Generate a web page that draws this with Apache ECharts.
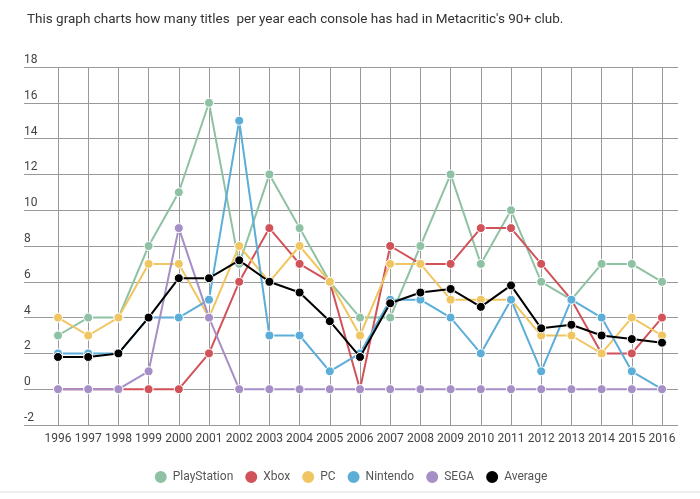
<!DOCTYPE html>
<html>
<head>
<meta charset="utf-8">
<script src="https://cdn.jsdelivr.net/npm/echarts@6/dist/echarts.min.js"></script>
<style>html,body{margin:0;padding:0;background:#fff;}#c{width:700px;height:499px;}</style>
</head>
<body>
<div id="c"></div>
<script>
var years = ['1996','1997','1998','1999','2000','2001','2002','2003','2004','2005','2006','2007','2008','2009','2010','2011','2012','2013','2014','2015','2016'];
var playstation = [3,4,4,8,11,16,7,12,9,6,4,4,8,12,7,10,6,5,7,7,6];
var xbox        = [0,0,0,0,0,2,6,9,7,6,0,8,7,7,9,9,7,5,2,2,4];
var pc          = [4,3,4,7,7,4,8,6,8,6,3,7,7,5,5,5,3,3,2,4,3];
var nintendo    = [2,2,2,4,4,5,15,3,3,1,2,5,5,4,2,5,1,5,4,1,0];
var sega        = [0,0,0,1,9,4,0,0,0,0,0,0,0,0,0,0,0,0,0,0,0];
var average     = [1.8,1.8,2,4,6.2,6.2,7.2,6,5.4,3.8,1.8,4.8,5.4,5.6,4.6,5.8,3.4,3.6,3,2.8,2.6];
var yTicks = {min: -2, max: 18, interval: 2};

var names  = ['PlayStation','Xbox','PC','Nintendo','SEGA','Average'];
var colors = ['#8fc2a4','#d2525a','#efc661','#5caed8','#a58fc6','#000000'];
var datas  = [playstation, xbox, pc, nintendo, sega, average];

var chart = echarts.init(document.getElementById('c'), null, {renderer: 'canvas'});
var series = names.map(function (n, i) {
  return {
    name: n, type: 'line', xAxisIndex: 1, yAxisIndex: 1,
    data: datas[i], symbol: 'circle', symbolSize: 9, showSymbol: true,
    lineStyle: {color: colors[i], width: 2},
    itemStyle: {color: colors[i], borderColor: '#fff', borderWidth: 1},
    z: 2 + i, animation: false
  };
});

chart.setOption({
  animation: false,
  title: {
    text: "This graph charts how many titles  per year each console has had in Metacritic's 90+ club.",
    left: 22, top: 8,
    textStyle: {fontSize: 13.5, fontWeight: 'normal', color: '#333', fontFamily: 'Liberation Sans Narrow, Roboto, sans-serif'}
  },
  legend: {
    data: names, bottom: 9, left: 'center', icon: 'circle',
    itemWidth: 14, itemHeight: 14, itemGap: 10,
    textStyle: {fontSize: 12, color: '#555', fontFamily: 'Roboto, sans-serif'}
  },
  grid: [
    {left: 24, right: 22, top: 67, bottom: 74},
    {left: 58, right: 38, top: 67, bottom: 74}
  ],
  xAxis: [
    {gridIndex: 0, type: 'value', min: 0, max: 1, show: false},
    {gridIndex: 1, type: 'category', data: years, boundaryGap: false,
     axisLine: {show: false}, axisTick: {show: false},
     axisLabel: {fontSize: 12, color: '#444', margin: 8, interval: 0, fontFamily: 'Roboto, sans-serif'},
     splitLine: {show: true, lineStyle: {color: '#999', width: 1}}}
  ],
  yAxis: [
    {gridIndex: 0, type: 'value', min: yTicks.min, max: yTicks.max, interval: yTicks.interval,
     axisLine: {show: false}, axisTick: {show: false},
     axisLabel: {align: 'left', verticalAlign: 'bottom', margin: 0, padding: [0,0,1,0], fontSize: 12, color: '#444', fontFamily: 'Roboto, sans-serif'},
     splitLine: {show: true, lineStyle: {color: '#999', width: 1}}},
    {gridIndex: 1, type: 'value', min: yTicks.min, max: yTicks.max, interval: yTicks.interval, show: false,
     splitLine: {show: false}}
  ],
  graphic: [{type: 'line', shape: {x1: 0, y1: 492, x2: 700, y2: 492}, style: {stroke: '#dddddd', lineWidth: 1}}],
  series: series
});
</script>
</body>
</html>
